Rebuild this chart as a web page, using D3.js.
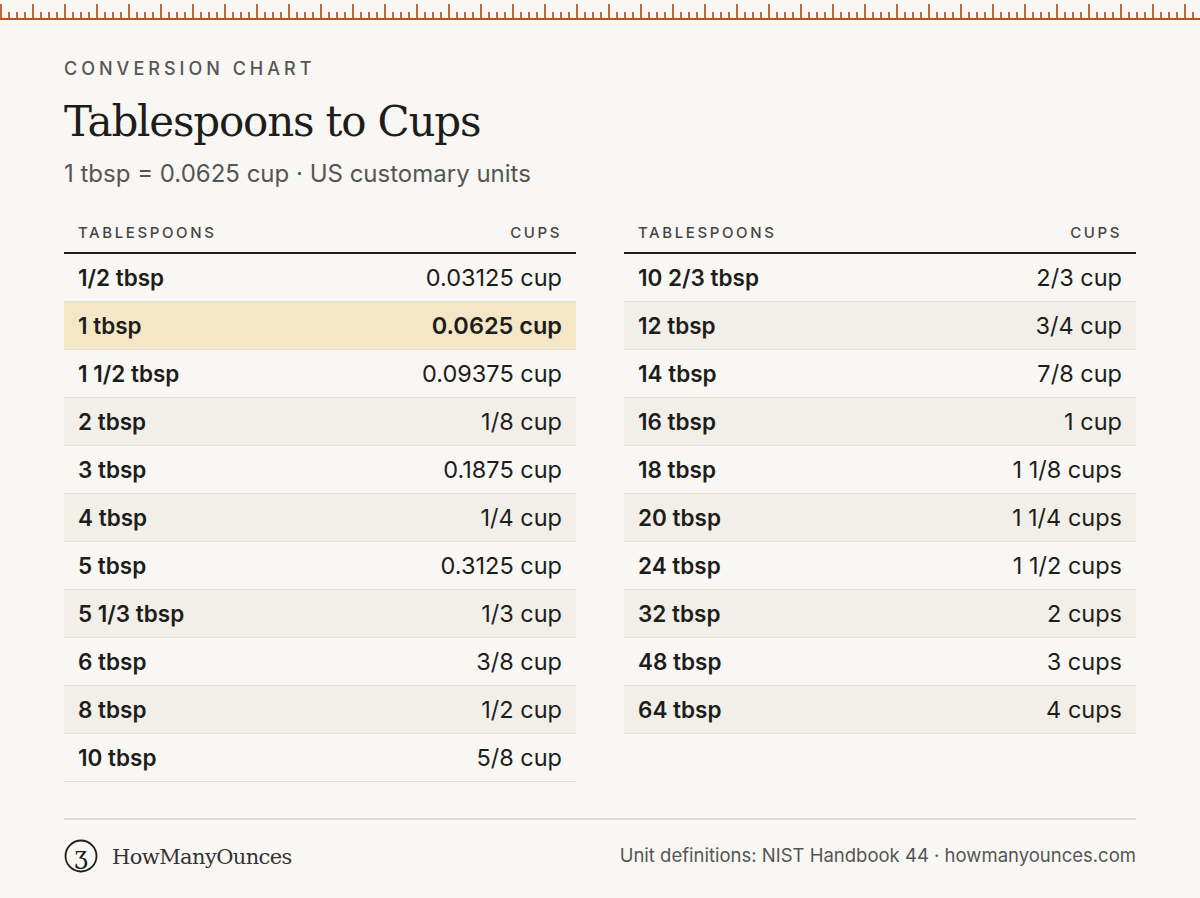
<!DOCTYPE html><html><head><meta charset="utf-8"><script src="https://cdn.jsdelivr.net/npm/d3@7"></script>
<style>body{margin:0;background:#f9f7f3}</style></head><body><svg id="c" width="1200" height="898"></svg>
<script>
const leftTbsp=["1/2 tbsp","1 tbsp","1 1/2 tbsp","2 tbsp","3 tbsp","4 tbsp","5 tbsp","5 1/3 tbsp","6 tbsp","8 tbsp","10 tbsp"];
const leftCups=["0.03125 cup","0.0625 cup","0.09375 cup","1/8 cup","0.1875 cup","1/4 cup","0.3125 cup","1/3 cup","3/8 cup","1/2 cup","5/8 cup"];
const rightTbsp=["10 2/3 tbsp","12 tbsp","14 tbsp","16 tbsp","18 tbsp","20 tbsp","24 tbsp","32 tbsp","48 tbsp","64 tbsp"];
const rightCups=["2/3 cup","3/4 cup","7/8 cup","1 cup","1 1/8 cups","1 1/4 cups","1 1/2 cups","2 cups","3 cups","4 cups"];
const highlight="1 tbsp";
const svg=d3.select("#c");
svg.append("rect").attr("width",1200).attr("height",898).attr("fill","#f9f7f3");
const sans="Inter, 'Noto Sans', sans-serif", serif="'DejaVu Serif', 'Liberation Serif', serif";
const rc="#b5501f";
svg.append("rect").attr("x",0).attr("y",18).attr("width",1200).attr("height",2).attr("fill",rc);
svg.selectAll(".tk").data(d3.range(0,1200,8)).enter().append("rect").attr("x",d=>d).attr("width",2)
 .attr("y",d=>d%32===0?4:12).attr("height",d=>d%32===0?15:7).attr("fill",rc).attr("opacity",0.85);
svg.append("text").attr("x",64).attr("y",75).text("CONVERSION CHART").attr("font-family",sans).attr("font-size",18).attr("letter-spacing",4).attr("fill","#555").attr("font-weight",500);
svg.append("text").attr("x",64).attr("y",136).text("Tablespoons to Cups").attr("font-family",serif).attr("font-size",42).attr("fill","#1d1d1b").attr("letter-spacing",-1.2);
svg.append("text").attr("x",64).attr("y",182).text("1 tbsp = 0.0625 cup · US customary units").attr("font-family",sans).attr("font-size",24).attr("fill","#555");
function table(x0,tb,cu){
 const w=512, y=d3.scaleBand().domain(d3.range(tb.length)).range([254,254+48*tb.length]);
 const g=svg.append("g");
 g.append("text").attr("x",x0+14).attr("y",238).text("TABLESPOONS").attr("font-family",sans).attr("font-size",15).attr("letter-spacing",2.6).attr("fill","#444").attr("font-weight",500);
 g.append("text").attr("x",x0+w-14).attr("y",238).attr("text-anchor","end").text("CUPS").attr("font-family",sans).attr("font-size",15).attr("letter-spacing",2.6).attr("fill","#444").attr("font-weight",500);
 const r=g.selectAll(".r").data(tb).enter().append("g");
 r.append("rect").attr("x",x0).attr("y",(d,i)=>y(i)).attr("width",w).attr("height",48)
  .attr("fill",(d,i)=>d===highlight?"#f5e7c6":(i%2?"#f2efe9":"#f9f7f3"));
 r.append("rect").attr("x",x0).attr("y",(d,i)=>y(i)+47).attr("width",w).attr("height",1).attr("fill","#e4e0d8");
 r.append("text").attr("x",x0+14).attr("y",(d,i)=>y(i)+32).text(d=>d).attr("font-family",sans).attr("font-size",22.5).attr("font-weight",600).attr("fill","#1d1d1b");
 r.append("text").attr("x",x0+w-14).attr("y",(d,i)=>y(i)+32).attr("text-anchor","end").text((d,i)=>cu[i]).attr("font-family",sans).attr("font-size",23.5).attr("font-weight",d=>d===highlight?600:400).attr("fill","#1d1d1b");
 g.append("rect").attr("x",x0).attr("y",252).attr("width",w).attr("height",2).attr("fill","#1d1d1b");
}
table(64,leftTbsp,leftCups);table(624,rightTbsp,rightCups);
svg.append("rect").attr("x",64).attr("y",818).attr("width",1072).attr("height",2).attr("fill","#e1ddd4");
svg.append("circle").attr("cx",81).attr("cy",856).attr("r",15.5).attr("fill","none").attr("stroke","#1d1d1b").attr("stroke-width",1.8);
svg.append("text").attr("x",81).attr("y",864).attr("text-anchor","middle").text("ʒ").attr("font-family",serif).attr("font-size",24).attr("fill","#1d1d1b");
svg.append("text").attr("x",112).attr("y",864).text("HowManyOunces").attr("font-family",serif).attr("font-size",21).attr("fill","#333").attr("letter-spacing",-0.6);
svg.append("text").attr("x",1136).attr("y",862).attr("text-anchor","end").text("Unit definitions: NIST Handbook 44 · howmanyounces.com").attr("font-family",sans).attr("font-size",18.5).attr("fill","#555");
</script></body></html>
